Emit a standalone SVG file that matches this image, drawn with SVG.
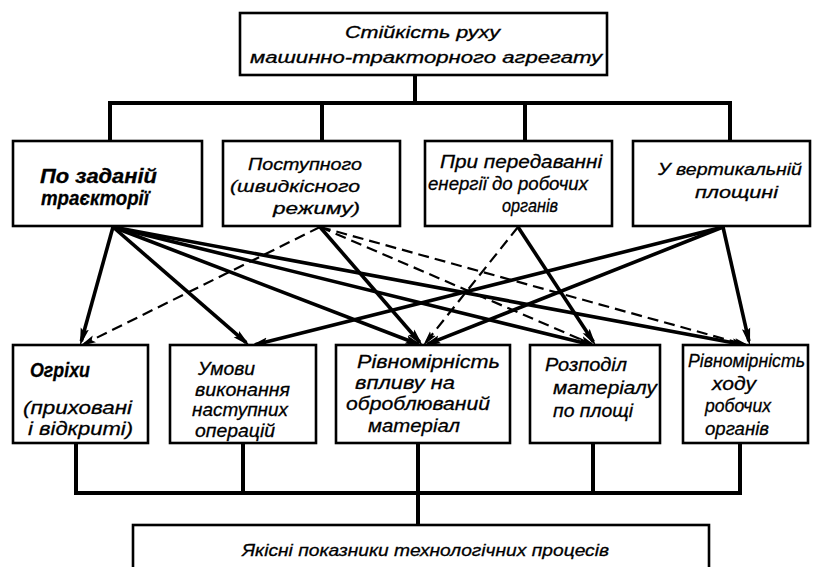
<svg xmlns="http://www.w3.org/2000/svg" width="813" height="567" viewBox="0 0 813 567">
  <style>
    .box { fill: #fff; stroke: #000; stroke-width: 2.6; }
    .tree { fill: none; stroke: #000; stroke-width: 4; stroke-linecap: square; }
    .solid { fill: none; stroke: #000; stroke-width: 3.6; }
    .dash { fill: none; stroke: #000; stroke-width: 2.2; stroke-dasharray: 11 6; }
    text { font-family: "Liberation Sans", "DejaVu Sans", sans-serif; font-style: italic; fill: #000; stroke: #000; stroke-width: 0.3; }
    .t16 { font-size: 16px; }
    .t17 { font-size: 17px; }
    .t19 { font-size: 19px; }
    .t20 { font-size: 20px; }
    .b { font-weight: bold; }
  </style>
  <defs>
    <marker id="arr" markerUnits="userSpaceOnUse" viewBox="0 0 18 10" refX="13" refY="5" markerWidth="18" markerHeight="10" orient="auto">
      <path d="M0,0.8 L18,5 L0,9.2 L3,5 z" fill="#000"/>
    </marker>
    <marker id="arrd" markerUnits="userSpaceOnUse" viewBox="0 0 16 9" refX="11" refY="4.5" markerWidth="16" markerHeight="9" orient="auto">
      <path d="M0,0.8 L16,4.5 L0,8.2 L3,4.5 z" fill="#000"/>
    </marker>
  </defs>

  <!-- tree lines joining the boxes -->
  <g id="connectors">
    <path class="tree" d="M415,75 V103 M110,103 H730 M110,103 V141 M322,103 V141 M525,103 V141 M730,103 V141"/>
    <path class="tree" d="M76,443 V493 M243,443 V493 M418,443 V525 M593,443 V493 M740,443 V493 M76,493 H740"/>

    <!-- influence arrows from the kinds of stability to the quality factors -->
    <line class="solid" x1="113" y1="227" x2="81.3" y2="341.2" marker-end="url(#arr)"/>
    <line class="solid" x1="113" y1="227" x2="246.2" y2="342.7" marker-end="url(#arr)"/>
    <line class="solid" x1="113" y1="227" x2="418.3" y2="344.2" marker-end="url(#arr)"/>
    <line class="solid" x1="113" y1="227" x2="591.1" y2="344.8" marker-end="url(#arr)"/>
    <line class="solid" x1="113" y1="227" x2="745.1" y2="345.1" marker-end="url(#arr)"/>

    <line class="dash" x1="320" y1="227" x2="84.5" y2="343.8" marker-end="url(#arrd)"/>
    <line class="solid" x1="320" y1="227" x2="419.7" y2="342.2" marker-end="url(#arr)"/>
    <line class="dash" x1="320" y1="227" x2="591.4" y2="344" marker-end="url(#arrd)"/>
    <line class="dash" x1="320" y1="227" x2="745.2" y2="344.7" marker-end="url(#arrd)"/>

    <line class="dash" x1="518" y1="227" x2="426.1" y2="342.1" marker-end="url(#arrd)"/>
    <line class="solid" x1="518" y1="227" x2="593.3" y2="341.8" marker-end="url(#arr)"/>

    <line class="solid" x1="723" y1="227" x2="254.9" y2="344.8" marker-end="url(#arr)"/>
    <line class="solid" x1="723" y1="227" x2="427.6" y2="344.2" marker-end="url(#arr)"/>
    <line class="solid" x1="723" y1="227" x2="748.9" y2="341.1" marker-end="url(#arr)"/>
  </g>

  <g id="top">
    <rect class="box" x="240" y="13" width="367" height="62"/>
    <text class="t16" x="345" y="38" textLength="155" lengthAdjust="spacingAndGlyphs">Стійкість руху</text>
    <text class="t16" x="250" y="63" textLength="352" lengthAdjust="spacingAndGlyphs">машинно-тракторного  агрегату</text>
  </g>

  <g id="trajectory">
    <rect class="box" x="13" y="141" width="189" height="85"/>
    <text class="t20 b" x="40" y="183" textLength="117" lengthAdjust="spacingAndGlyphs">По заданій</text>
    <text class="t20 b" x="41" y="205" textLength="108" lengthAdjust="spacingAndGlyphs">траєкторії</text>
  </g>

  <g id="translational">
    <rect class="box" x="223" y="141" width="177" height="85"/>
    <text class="t17" x="248" y="170" textLength="114" lengthAdjust="spacingAndGlyphs">Поступного</text>
    <text class="t17" x="230" y="192" textLength="130" lengthAdjust="spacingAndGlyphs">(швидкісного</text>
    <text class="t17" x="273" y="214" textLength="87" lengthAdjust="spacingAndGlyphs">режиму)</text>
  </g>

  <g id="energy">
    <rect class="box" x="425" y="141" width="187" height="85"/>
    <text class="t19" x="440" y="168" textLength="162" lengthAdjust="spacingAndGlyphs">При передаванні</text>
    <text class="t19" x="428" y="190" textLength="160" lengthAdjust="spacingAndGlyphs">енергії до робочих</text>
    <text class="t19" x="502" y="212" textLength="56" lengthAdjust="spacingAndGlyphs">органів</text>
  </g>

  <g id="vertical">
    <rect class="box" x="633" y="141" width="177" height="85"/>
    <text class="t17" x="658" y="175" textLength="144" lengthAdjust="spacingAndGlyphs">У вертикальній</text>
    <text class="t17" x="695" y="198" textLength="83" lengthAdjust="spacingAndGlyphs">площині</text>
  </g>

  <g id="misses">
    <rect class="box" x="13" y="345" width="135" height="98"/>
    <text class="t20 b" x="30" y="377" textLength="60" lengthAdjust="spacingAndGlyphs">Огріхи</text>
    <text class="t19" x="23" y="414" textLength="109" lengthAdjust="spacingAndGlyphs">(приховані</text>
    <text class="t19" x="28" y="435" textLength="105" lengthAdjust="spacingAndGlyphs">і відкриті)</text>
  </g>

  <g id="conditions">
    <rect class="box" x="170" y="345" width="146" height="98"/>
    <text class="t19" x="198" y="375" textLength="57" lengthAdjust="spacingAndGlyphs">Умови</text>
    <text class="t19" x="195" y="396" textLength="95" lengthAdjust="spacingAndGlyphs">виконання</text>
    <text class="t19" x="192" y="416" textLength="96" lengthAdjust="spacingAndGlyphs">наступних</text>
    <text class="t19" x="195" y="437" textLength="80" lengthAdjust="spacingAndGlyphs">операцій</text>
  </g>

  <g id="uniform-effect">
    <rect class="box" x="336" y="345" width="174" height="98"/>
    <text class="t19" x="357" y="368" textLength="143" lengthAdjust="spacingAndGlyphs">Рівномірність</text>
    <text class="t19" x="355" y="389" textLength="100" lengthAdjust="spacingAndGlyphs">впливу на</text>
    <text class="t19" x="346" y="410" textLength="144" lengthAdjust="spacingAndGlyphs">оброблюваний</text>
    <text class="t19" x="368" y="432" textLength="92" lengthAdjust="spacingAndGlyphs">матеріал</text>
  </g>

  <g id="distribution">
    <rect class="box" x="530" y="345" width="130" height="98"/>
    <text class="t19" x="545" y="371" textLength="82" lengthAdjust="spacingAndGlyphs">Розподіл</text>
    <text class="t19" x="553" y="394" textLength="104" lengthAdjust="spacingAndGlyphs">матеріалу</text>
    <text class="t19" x="553" y="417" textLength="80" lengthAdjust="spacingAndGlyphs">по площі</text>
  </g>

  <g id="uniform-motion">
    <rect class="box" x="683" y="345" width="125" height="98"/>
    <text class="t19" x="688" y="367" textLength="117" lengthAdjust="spacingAndGlyphs">Рівномірність</text>
    <text class="t19" x="712" y="390" textLength="44" lengthAdjust="spacingAndGlyphs">ходу</text>
    <text class="t19" x="705" y="412" textLength="66" lengthAdjust="spacingAndGlyphs">робочих</text>
    <text class="t19" x="705" y="435" textLength="64" lengthAdjust="spacingAndGlyphs">органів</text>
  </g>

  <g id="quality">
    <rect class="box" x="133" y="525" width="576" height="60"/>
    <text class="t17" x="242" y="556" textLength="367" lengthAdjust="spacingAndGlyphs">Якісні   показники  технологічних процесів</text>
  </g>
</svg>
